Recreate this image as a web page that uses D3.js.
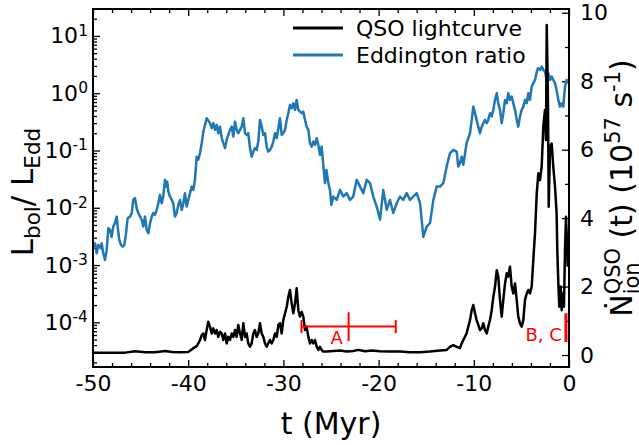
<!DOCTYPE html>
<html>
<head>
<meta charset="utf-8">
<script src="https://cdn.jsdelivr.net/npm/d3@7"></script>
<style>
  body { margin: 0; background: #fff; }
  svg text { font-family: "DejaVu Sans", sans-serif; fill: #000; }
</style>
</head>
<body>
<svg id="chart" width="639" height="445"></svg>
<script>
// Eddington ratio (left, log axis): [t in Myr, L_bol/L_Edd]
const eddington = [
  [-49.97,2.1e-3],[-49.79,2.4e-3],[-49.61,1.6e-3],[-49.44,2.25e-3],[-49.19,1.97e-3],[-49.09,2.4e-3],
  [-48.92,1.6e-3],[-48.74,1.23e-3],[-48.56,1.84e-3],[-48.39,4.4e-3],[-48.21,4.1e-3],[-48.04,3.1e-3],
  [-47.87,4.7e-3],[-47.69,5.4e-3],[-47.51,7.0e-3],[-47.41,4.7e-3],[-47.24,2.75e-3],[-47.06,2.25e-3],
  [-46.88,2.1e-3],[-46.71,2.25e-3],[-46.53,3.6e-3],[-46.36,6.6e-3],[-46.11,7.0e-3],[-45.93,8.1e-3],
  [-45.77,1.37e-2],[-45.59,1.47e-2],[-45.41,9.8e-3],[-45.24,8.1e-3],[-45.06,7.0e-3],[-44.88,6.2e-3],
  [-44.72,4.7e-3],[-44.54,7.0e-3],[-44.36,4.1e-3],[-44.19,3.6e-3],[-44.01,5.4e-3],[-43.83,7.0e-3],
  [-43.67,8.1e-3],[-43.49,7.5e-3],[-43.31,9.2e-3],[-43.14,1.2e-2],[-42.96,1.68e-2],[-42.78,1.2e-2],
  [-42.62,1.57e-2],[-42.44,3.07e-2],[-42.33,2.34e-2],[-42.20,2.86e-2],[-42.09,1.92e-2],[-41.91,1.57e-2],
  [-41.73,1.37e-2],[-41.57,1.2e-2],[-41.39,7.0e-3],[-41.21,8.1e-3],[-41.04,1.12e-2],[-40.86,1.37e-2],
  [-40.68,9.2e-3],[-40.51,1.2e-2],[-40.34,1.8e-2],[-40.16,1.05e-2],[-39.99,1.37e-2],[-39.81,1.8e-2],
  [-39.63,2.34e-2],[-39.46,2.05e-2],[-39.29,3.07e-2],[-39.11,7.8e-2],[-38.94,6.9e-2],[-38.76,9.0e-2],
  [-38.58,0.134],[-38.41,0.214],[-38.06,0.366],[-37.71,0.30],[-37.53,0.245],[-37.36,0.30],
  [-37.18,0.229],[-37.01,0.28],[-36.84,0.20],[-36.66,0.261],[-36.48,0.164],[-36.31,0.134],
  [-36.13,0.110],[-35.96,0.153],[-35.79,0.187],[-35.61,0.229],[-35.43,0.261],[-35.26,0.175],
  [-35.08,0.319],[-34.91,0.229],[-34.74,0.20],[-34.56,0.229],[-34.38,0.261],[-34.21,0.366],
  [-34.03,0.20],[-33.86,0.187],[-33.69,0.20],[-33.51,0.110],[-33.33,0.078],[-33.16,0.0957],
  [-32.99,0.110],[-32.81,0.102],[-32.64,0.143],[-32.46,0.342],[-32.28,0.261],[-32.11,0.187],
  [-31.93,0.20],[-31.76,0.117],[-31.59,0.0957],[-31.41,0.102],[-31.23,0.117],[-31.06,0.143],
  [-30.88,0.20],[-30.70,0.164],[-30.53,0.245],[-30.36,0.366],[-30.18,0.187],[-30.01,0.20],
  [-29.83,0.229],[-29.65,0.342],[-29.48,0.448],[-29.31,0.625],[-29.13,0.547],[-28.96,0.668],
  [-28.78,0.512],[-28.61,0.764],[-28.43,0.512],[-28.26,0.478],[-28.08,0.448],[-27.91,0.478],
  [-27.73,0.342],[-27.56,0.261],[-27.38,0.229],[-27.21,0.134],[-27.03,0.117],[-26.86,0.143],
  [-26.68,0.125],[-26.50,0.164],[-26.33,0.125],[-26.16,0.0838],[-25.98,0.117],[-25.81,0.0561],
  [-25.63,0.0269],[-25.48,0.0458],[-25.28,0.0269],[-25.11,0.0205],[-24.96,0.0112],[-24.76,0.0157],
  [-24.40,0.0137],[-24.05,0.0205],[-23.71,0.0157],[-23.35,0.018],[-23.00,0.0137],[-22.66,0.0157],
  [-22.30,0.0307],[-21.95,0.0234],[-21.61,0.018],[-21.25,0.0307],[-20.90,0.0269],[-20.56,0.0157],
  [-20.20,0.0105],[-19.85,0.00622],[-19.51,0.0205],[-19.15,0.0092],[-18.80,0.0137],[-18.46,0.0081],
  [-18.10,0.012],[-17.75,0.0157],[-17.41,0.0137],[-17.05,0.018],[-16.70,0.0137],[-16.35,0.0157],
  [-16.00,0.018],[-15.65,0.012],[-15.30,0.0031],[-14.95,0.0047],[-14.60,0.0054],[-14.25,0.0137],
  [-13.90,0.0234],[-13.55,0.0234],[-13.20,0.0269],[-12.85,0.0524],[-12.50,0.090],[-12.15,0.102],
  [-11.80,0.0957],[-11.63,0.0524],[-11.45,0.060],[-11.27,0.078],[-11.10,0.0561],[-10.76,0.134],
  [-10.40,0.20],[-10.22,0.342],[-10.05,0.583],[-9.87,0.448],[-9.70,0.342],[-9.53,0.261],
  [-9.35,0.20],[-9.17,0.261],[-9.00,0.30],[-8.82,0.342],[-8.64,0.30],[-8.48,0.342],
  [-8.30,0.448],[-8.12,0.391],[-7.95,0.512],[-7.77,0.764],[-7.59,1.0],[-7.43,0.668],
  [-7.25,0.512],[-7.07,0.30],[-6.90,0.448],[-6.72,0.764],[-6.54,0.668],[-6.38,1.0],
  [-6.20,0.764],[-6.02,0.875],[-5.85,0.668],[-5.67,0.512],[-5.49,0.342],[-5.33,0.261],
  [-5.15,0.391],[-4.97,0.512],[-4.80,0.583],[-4.62,0.764],[-4.44,0.668],[-4.27,1.0],
  [-4.10,0.764],[-3.92,1.30],[-3.75,1.50],[-3.57,1.71],[-3.42,2.23],[-3.26,2.73],
  [-3.05,2.55],[-2.87,2.91],[-2.70,2.55],[-2.52,2.38],[-2.34,1.71],[-2.17,2.23],
  [-1.99,1.71],[-1.82,1.95],[-1.65,1.71],[-1.47,1.50],[-1.30,1.14],[-1.12,0.764],
  [-0.95,0.583],[-0.77,0.668],[-0.60,0.583],[-0.42,1.30],[-0.24,1.71],[-0.05,1.50]
];

// QSO lightcurve (right, linear axis): [t in Myr, Ndot_ion in 1e57 s^-1]
const lightcurve = [
  [-50.00,0.07],[-48.20,0.07],[-46.60,0.07],[-45.60,0.11],[-44.50,0.08],[-43.50,0.08],
  [-42.40,0.12],[-41.70,0.09],[-40.90,0.08],[-40.00,0.09],[-39.46,0.20],[-39.11,0.26],
  [-38.94,0.34],[-38.76,0.44],[-38.58,0.58],[-38.41,0.63],[-38.24,0.44],[-38.06,0.73],
  [-37.89,0.97],[-37.71,0.83],[-37.53,0.63],[-37.36,0.78],[-37.18,0.63],[-37.01,0.73],
  [-36.84,0.53],[-36.66,0.68],[-36.48,0.63],[-36.31,0.44],[-36.13,0.63],[-35.96,0.34],
  [-35.79,0.53],[-35.61,0.44],[-35.43,0.63],[-35.26,0.53],[-35.08,0.73],[-34.91,0.53],
  [-34.74,0.88],[-34.56,0.63],[-34.38,0.44],[-34.21,0.93],[-34.03,0.53],[-33.86,0.63],
  [-33.69,0.34],[-33.51,0.24],[-33.33,0.34],[-33.16,0.63],[-32.99,0.73],[-32.81,0.53],
  [-32.64,0.63],[-32.46,0.93],[-32.28,0.63],[-32.11,0.53],[-31.93,0.34],[-31.76,0.24],
  [-31.59,0.34],[-31.41,0.44],[-31.23,0.34],[-31.06,0.44],[-30.88,0.63],[-30.70,0.53],
  [-30.53,0.88],[-30.36,0.93],[-30.18,0.63],[-30.01,1.02],[-29.83,1.22],[-29.65,1.41],
  [-29.48,1.70],[-29.31,1.90],[-29.13,1.51],[-28.96,1.22],[-28.78,1.51],[-28.61,1.95],
  [-28.43,1.31],[-28.26,1.12],[-28.08,1.26],[-27.91,1.12],[-27.73,0.73],[-27.56,0.83],
  [-27.38,0.53],[-27.21,0.34],[-27.03,0.44],[-26.86,0.34],[-26.68,0.44],[-26.50,0.24],
  [-26.33,0.15],[-26.16,0.24],[-25.98,0.15],[-25.81,0.10],[-25.45,0.10],[-24.76,0.12],
  [-24.05,0.13],[-23.35,0.10],[-22.66,0.12],[-22.13,0.15],[-21.43,0.11],[-20.69,0.13],
  [-19.85,0.11],[-18.80,0.10],[-17.75,0.10],[-16.70,0.08],[-15.65,0.08],[-14.60,0.10],
  [-13.55,0.13],[-12.85,0.15],[-12.50,0.24],[-12.15,0.29],[-11.80,0.24],[-11.45,0.20],
  [-11.27,0.34],[-11.10,0.44],[-10.76,0.63],[-10.58,0.83],[-10.40,1.02],[-10.22,1.31],
  [-10.05,1.46],[-9.87,1.22],[-9.70,1.02],[-9.53,0.88],[-9.35,0.73],[-9.17,0.78],
  [-9.00,0.93],[-8.82,0.73],[-8.64,0.63],[-8.48,0.83],[-8.30,1.02],[-8.12,1.31],
  [-7.95,1.70],[-7.77,2.00],[-7.59,2.48],[-7.43,2.29],[-7.25,1.61],[-7.07,1.12],
  [-6.90,1.61],[-6.72,2.09],[-6.54,2.39],[-6.38,2.29],[-6.20,2.58],[-6.02,2.00],
  [-5.85,1.80],[-5.67,2.09],[-5.49,1.61],[-5.33,1.12],[-5.15,0.93],[-4.97,0.83],
  [-4.80,1.02],[-4.62,1.61],[-4.44,1.80],[-4.27,1.90],[-4.10,1.80],[-3.92,2.00],
  [-3.75,2.78],[-3.57,3.56],[-3.39,4.72],[-3.22,5.31],[-3.05,5.11],[-2.87,5.50],
  [-2.70,6.67],[-2.52,7.16],[-2.42,6.28],[-2.34,9.64],[-2.21,7.45],[-2.13,4.33],
  [-1.99,6.09],[-1.82,6.18],[-1.65,5.50],[-1.47,4.92],[-1.30,4.14],[-1.23,3.07],
  [-1.12,2.09],[-1.02,1.41],[-0.87,2.00],[-0.77,1.31],[-0.66,1.80],[-0.53,1.41],
  [-0.42,3.07],[-0.32,4.04],[-0.24,3.56],[-0.14,2.58]
];

// red error-bar markers: t, t error, rate, rate error, label
const markers = [
  { t: -23.15, tErr: 4.95, rate: 0.83, rateErr: 0.42, label: "A" },
  { t: -0.32, tErr: 0, rate: 0.80, rateErr: 0.42, label: "B, C" }
];

const xDomain = [-50, 0];
const eddDomain = [1.66e-5, 29.5];
const qsoDomain = [-0.35, 10.11];
const xTicks = [-50, -40, -30, -20, -10, 0];
const eddTickExponents = [-4, -3, -2, -1, 0, 1];
const qsoTicks = [0, 2, 4, 6, 8, 10];
const legendLabels = ["QSO lightcurve", "Eddington ratio"];

const blue = "#1f77b4";
const red = "#f00";

const svg = d3.select("#chart");
const plot = { left: 93, right: 569, top: 9, bottom: 367 };

const xScale = d3.scaleLinear().domain(xDomain).range([plot.left, plot.right]);
const yEdd = d3.scaleLog().domain(eddDomain).range([plot.bottom, plot.top]);
const yQso = d3.scaleLinear().domain(qsoDomain).range([plot.bottom, plot.top]);

function styleAxis(g) {
  g.select(".domain").remove();
  g.attr("font-family", null).attr("font-size", null);
  g.selectAll(".tick line").attr("stroke", "#000").attr("stroke-width", 1.3);
  g.selectAll(".tick text").attr("fill", "#000").style("font-size", "22px");
}

// minor tick positions
const xMinor = d3.range(-48, 0, 2).filter(v => v % 10 !== 0);
const eddMinor = [];
for (let e = -5; e <= 1; e++) {
  for (let m = 2; m <= 9; m++) {
    const v = m * Math.pow(10, e);
    if (v > eddDomain[0] && v < eddDomain[1]) eddMinor.push(v);
  }
}
const qsoMinor = [1, 3, 5, 7, 9];

// bottom axis
svg.append("g")
  .attr("transform", `translate(0,${plot.bottom})`)
  .call(d3.axisBottom(xScale).tickValues(xTicks).tickSizeInner(-7).tickSizeOuter(0)
    .tickPadding(8).tickFormat(d => String(d)))
  .call(styleAxis);
svg.append("g")
  .attr("transform", `translate(0,${plot.bottom})`)
  .call(d3.axisBottom(xScale).tickValues(xMinor).tickSizeInner(-4).tickSizeOuter(0).tickFormat(""))
  .call(styleAxis);

// top axis (ticks only)
svg.append("g")
  .attr("transform", `translate(0,${plot.top})`)
  .call(d3.axisTop(xScale).tickValues(xTicks).tickSizeInner(-7).tickSizeOuter(0).tickFormat(""))
  .call(styleAxis);
svg.append("g")
  .attr("transform", `translate(0,${plot.top})`)
  .call(d3.axisTop(xScale).tickValues(xMinor).tickSizeInner(-4).tickSizeOuter(0).tickFormat(""))
  .call(styleAxis);

// left log axis with 10^n labels
const leftAxis = svg.append("g")
  .attr("transform", `translate(${plot.left},0)`)
  .call(d3.axisLeft(yEdd).tickValues(eddTickExponents.map(e => Math.pow(10, e)))
    .tickSizeInner(-7).tickSizeOuter(0).tickPadding(5).tickFormat(""))
  .call(styleAxis);
leftAxis.selectAll(".tick text").each(function(d) {
  const t = d3.select(this);
  const e = Math.round(Math.log10(d));
  t.append("tspan").text("10");
  t.append("tspan").attr("dy", "-0.5em").style("font-size", "15.5px").text(String(e));
});
svg.append("g")
  .attr("transform", `translate(${plot.left},0)`)
  .call(d3.axisLeft(yEdd).tickValues(eddMinor).tickSizeInner(-4).tickSizeOuter(0).tickFormat(""))
  .call(styleAxis);

// right linear axis
svg.append("g")
  .attr("transform", `translate(${plot.right},0)`)
  .call(d3.axisRight(yQso).tickValues(qsoTicks).tickSizeInner(-7).tickSizeOuter(0)
    .tickPadding(11).tickFormat(d => String(d)))
  .call(styleAxis);
svg.append("g")
  .attr("transform", `translate(${plot.right},0)`)
  .call(d3.axisRight(yQso).tickValues(qsoMinor).tickSizeInner(-4).tickSizeOuter(0).tickFormat(""))
  .call(styleAxis);

// clip for the curves
svg.append("defs").append("clipPath").attr("id", "plot-clip")
  .append("rect")
  .attr("x", plot.left).attr("y", plot.top)
  .attr("width", plot.right - plot.left).attr("height", plot.bottom - plot.top);

const eddLine = d3.line().x(d => xScale(d[0])).y(d => yEdd(d[1]));
const qsoLine = d3.line().x(d => xScale(d[0])).y(d => yQso(d[1]));

const curves = svg.append("g").attr("clip-path", "url(#plot-clip)");
curves.append("path")
  .datum(eddington)
  .attr("d", eddLine)
  .attr("fill", "none")
  .attr("stroke", blue)
  .attr("stroke-width", 2.5)
  .attr("stroke-linejoin", "round");
curves.append("path")
  .datum(lightcurve)
  .attr("d", qsoLine)
  .attr("fill", "none")
  .attr("stroke", "#000")
  .attr("stroke-width", 2.5)
  .attr("stroke-linejoin", "round");

// red error bars
const capHalf = 6.5;
markers.forEach(m => {
  const g = curves.append("g").attr("stroke", red).attr("stroke-width", 2);
  const cy = yQso(m.rate);
  if (m.tErr > 0) {
    g.append("line")
      .attr("x1", xScale(m.t - m.tErr)).attr("x2", xScale(m.t + m.tErr))
      .attr("y1", cy).attr("y2", cy);
    [m.t - m.tErr, m.t + m.tErr].forEach(tc => {
      g.append("line")
        .attr("x1", xScale(tc)).attr("x2", xScale(tc))
        .attr("y1", cy - capHalf).attr("y2", cy + capHalf);
    });
  }
  g.append("line")
    .attr("x1", xScale(m.t)).attr("x2", xScale(m.t))
    .attr("y1", yQso(m.rate - m.rateErr)).attr("y2", yQso(m.rate + m.rateErr))
    .attr("stroke-width", m.tErr > 0 ? 2 : 3);
});
svg.append("text")
  .attr("x", xScale(-24.4)).attr("y", 344)
  .attr("text-anchor", "middle")
  .style("font-size", "18px").style("fill", red)
  .text(markers[0].label);
svg.append("text")
  .attr("x", xScale(-0.75)).attr("y", 341)
  .attr("text-anchor", "end")
  .style("font-size", "18px").style("fill", red)
  .text(markers[1].label);

// frame
svg.append("rect")
  .attr("x", plot.left).attr("y", plot.top)
  .attr("width", plot.right - plot.left).attr("height", plot.bottom - plot.top)
  .attr("fill", "none").attr("stroke", "#000").attr("stroke-width", 2);

// legend
const legendColors = ["#000", blue];
legendLabels.forEach((label, i) => {
  const ly = 28 + i * 27;
  svg.append("line")
    .attr("x1", 293).attr("x2", 343).attr("y1", ly).attr("y2", ly)
    .attr("stroke", legendColors[i]).attr("stroke-width", 2.8);
  svg.append("text")
    .attr("x", 356).attr("y", ly + 8)
    .style("font-size", "22px")
    .text(label);
});

// axis titles
svg.append("text")
  .attr("x", (plot.left + plot.right) / 2).attr("y", 434)
  .attr("text-anchor", "middle")
  .style("font-size", "30px")
  .text("t (Myr)");

const leftTitle = svg.append("text")
  .attr("transform", "translate(33,192) rotate(-90)")
  .attr("text-anchor", "middle")
  .style("font-size", "31px");
leftTitle.append("tspan").text("L");
leftTitle.append("tspan").attr("dy", 7).style("font-size", "21.5px").text("bol");
leftTitle.append("tspan").attr("dy", -7).text("/ L");
leftTitle.append("tspan").attr("dy", 7).style("font-size", "21.5px").text("Edd");

const rightTitle = svg.append("text")
  .attr("transform", "translate(632,188) rotate(-90)")
  .attr("text-anchor", "middle")
  .style("font-size", "30px");
rightTitle.append("tspan").text("\u1E44");
const sub = rightTitle.append("tspan").attr("dy", 7).style("font-size", "21px").text("ion");
const subLen = sub.node().getComputedTextLength();
rightTitle.append("tspan").attr("dx", -subLen).attr("dy", -19).style("font-size", "21px").text("QSO");
rightTitle.append("tspan").attr("dy", 12).text(" (t) (10");
rightTitle.append("tspan").attr("dy", -12).style("font-size", "21px").text("57");
rightTitle.append("tspan").attr("dy", 12).text(" s");
rightTitle.append("tspan").attr("dy", -12).style("font-size", "21px").text("-1");
rightTitle.append("tspan").attr("dy", 12).text(")");
</script>
</body>
</html>
